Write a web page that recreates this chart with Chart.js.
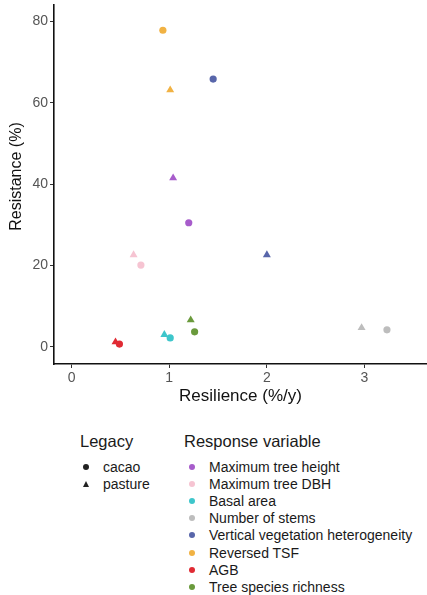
<!DOCTYPE html>
<html>
<head>
<meta charset="utf-8">
<script src="https://cdn.jsdelivr.net/npm/chart.js@4"></script>
<style>
  html, body { margin: 0; padding: 0; background: #fff; }
  #wrap { position: relative; width: 427px; height: 595px; font-family: "Liberation Sans", Arial, sans-serif; }
  #c { position: absolute; left: 0; top: 0; }
  .leg { position: absolute; color: #1a1a1a; }
  .ttl { font-size: 16.5px; }
  .item { position: absolute; font-size: 14px; white-space: nowrap; line-height: 16px; }
  .dot { position: absolute; width: 6px; height: 6px; border-radius: 50%; }
  .tri { position: absolute; width: 0; height: 0; border-left: 3.5px solid transparent; border-right: 3.5px solid transparent; border-bottom: 6px solid #222; }
</style>
</head>
<body>
<div id="wrap">
  <canvas id="c" width="427" height="420"></canvas>
  <div id="legend"></div>
</div>
<script>
const variables = ['Maximum tree height', 'Maximum tree DBH', 'Basal area', 'Number of stems',
  'Vertical vegetation heterogeneity', 'Reversed TSF', 'AGB', 'Tree species richness'];
const colors = ['#a75ccb', '#f6c4d2', '#3ec6cb', '#bdbdbd', '#5866aa', '#f1b243', '#e02a33', '#6a9a3c'];
const legacies = ['cacao', 'pasture'];
const cacaoResilience   = [1.20, 0.71, 1.01, 3.23, 1.45, 0.935, 0.49, 1.26];
const cacaoResistance   = [30.5, 20.1, 2.2, 4.2, 65.8, 77.8, 0.7, 3.7];
const pastureResilience = [1.04, 0.635, 0.95, 2.97, 2.00, 1.01, 0.45, 1.22];
const pastureResistance = [41.5, 22.6, 3.0, 4.7, 22.6, 63.1, 1.2, 6.6];
const xTicks = [0, 1, 2, 3];
const yTicks = [0, 20, 40, 60, 80];
const xTitle = 'Resilience (%/y)';
const yTitle = 'Resistance (%)';

const toPts = (xs, ys) => xs.map((x, i) => ({x: x, y: ys[i]}));

const FAM = '"Liberation Sans", Arial, sans-serif';
const tickFont = {family: FAM, size: 14};
const titleFont = {family: FAM, size: 17};

const yTitlePlugin = {
  id: 'yTitle',
  afterDraw(chart) {
    const ctx = chart.ctx;
    ctx.save();
    ctx.translate(17, 176.5);
    ctx.rotate(-Math.PI / 2);
    ctx.font = '16px ' + FAM;
    ctx.fillStyle = '#111';
    ctx.textAlign = 'center';
    ctx.textBaseline = 'middle';
    ctx.fillText(yTitle, 0, 0);
    ctx.restore();
  }
};

new Chart(document.getElementById('c'), {
  type: 'scatter',
  data: {
    datasets: [
      { label: legacies[0], data: toPts(cacaoResilience, cacaoResistance),
        pointStyle: 'circle', pointRadius: 3.6, pointHoverRadius: 3.6,
        backgroundColor: colors, borderColor: colors, borderWidth: 0 },
      { label: legacies[1], data: toPts(pastureResilience, pastureResistance),
        pointStyle: 'triangle', pointRadius: 4.6, pointHoverRadius: 4.6,
        backgroundColor: colors, borderColor: colors, borderWidth: 0 }
    ]
  },
  plugins: [yTitlePlugin],
  options: {
    responsive: false,
    animation: false,
    events: [],
    layout: { padding: { top: 5, right: 0, left: 0, bottom: 0 }, autoPadding: false },
    plugins: { legend: { display: false }, tooltip: { enabled: false } },
    scales: {
      x: {
        type: 'linear', min: -0.18, max: 3.64,
        afterBuildTicks: s => { s.ticks = xTicks.map(v => ({value: v})); },
        afterFit: s => { s.height = 56; s.paddingLeft = 0; s.paddingRight = 0; },
        grid: { drawOnChartArea: false, drawTicks: true, tickLength: 4, color: '#333', lineWidth: 1 },
        border: { display: true, color: '#111', width: 1.6 },
        ticks: { color: '#555', font: tickFont, padding: 2 },
        title: { display: true, text: xTitle, color: '#111', font: titleFont, padding: { top: 0, bottom: 13 } }
      },
      y: {
        type: 'linear', min: -4.2, max: 84,
        afterBuildTicks: s => { s.ticks = yTicks.map(v => ({value: v})); },
        afterFit: s => { s.width = 54; s.paddingTop = 0; s.paddingBottom = 0; },
        grid: { drawOnChartArea: false, drawTicks: true, tickLength: 4, color: '#333', lineWidth: 1 },
        border: { display: true, color: '#111', width: 1.6 },
        ticks: { color: '#555', font: tickFont, padding: 2 },
        title: { display: false }
      }
    }
  }
});

// Legend (HTML text)
const leg = document.getElementById('legend');
function add(html) { leg.insertAdjacentHTML('beforeend', html); }
add('<div class="leg ttl" style="left:80px;top:432px;">Legacy</div>');
add('<div class="leg ttl" style="left:184px;top:432px;">Response variable</div>');
const legY0 = 459, legStep = 17.1;
legacies.forEach((l, i) => {
  const y = legY0 + i * legStep;
  const marker = i === 0
    ? `<span class="dot" style="left:83px;top:${y + 5}px;background:#222;"></span>`
    : `<span class="tri" style="left:82.5px;top:${y + 4.5}px;"></span>`;
  add(marker + `<div class="leg item" style="left:103px;top:${y}px;">${l}</div>`);
});
variables.forEach((v, i) => {
  const y = legY0 + i * legStep;
  add(`<span class="dot" style="left:189px;top:${y + 5}px;background:${colors[i]};"></span>` +
      `<div class="leg item" style="left:209px;top:${y}px;">${v}</div>`);
});
</script>
</body>
</html>
